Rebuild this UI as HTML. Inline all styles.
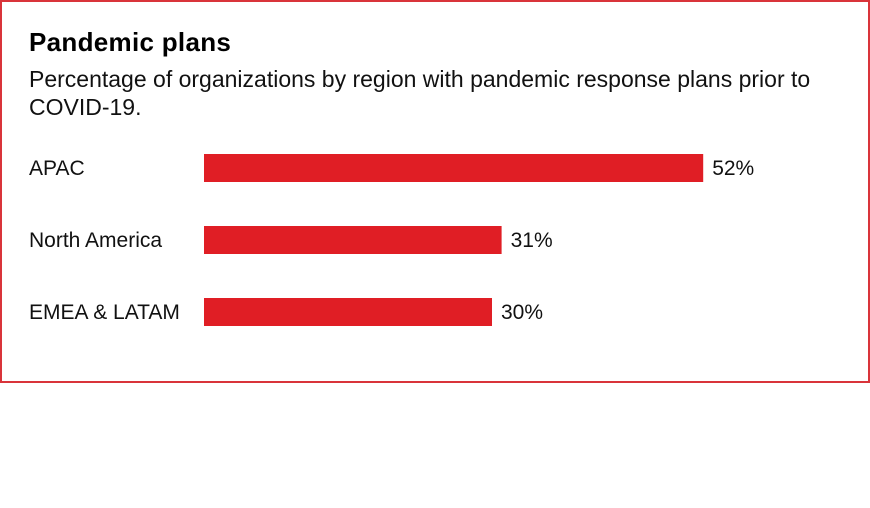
<!DOCTYPE html>
<html><head><meta charset="utf-8"><style>
html,body{margin:0;padding:0;background:#fff;width:870px;height:508px;overflow:hidden;font-family:"Liberation Sans",sans-serif;}
#frame{position:absolute;left:0;top:0;width:866px;height:379px;border:2px solid #d9343a;}
#title{position:absolute;left:29px;top:27px;font-size:26px;font-weight:bold;color:#000;margin:0;letter-spacing:0.3px;}
#sub{position:absolute;left:29px;top:65px;width:800px;font-size:23px;line-height:28px;color:#111;margin:0;}
svg{position:absolute;left:0;top:0;}
</style></head><body>
<div id="frame"></div>
<h1 id="title">Pandemic plans</h1>
<p id="sub">Percentage of organizations by region with pandemic response plans prior to COVID-19.</p>
<svg id="chart" width="870" height="508"></svg>
<script>
const categories = ["APAC", "North America", "EMEA & LATAM"];
const values = [52, 31, 30];
const valueLabels = ["52%", "31%", "30%"];

const svg = document.getElementById('chart');
const NS = 'http://www.w3.org/2000/svg';
const x0 = 204, pxPerUnit = 9.6;
function xScale(v){ return x0 + v * pxPerUnit; }
const rowTop = 154, rowStep = 72, barH = 28;
function yScale(i){ return rowTop + i * rowStep; }

categories.forEach((c, i) => {
  const y = yScale(i);
  const lab = document.createElementNS(NS, 'text');
  
  
  lab.setAttribute('x', 29);
  lab.setAttribute('y', y + barH/2 + 7);
  lab.setAttribute('font-size', '21');
  lab.setAttribute('fill', '#111');
  lab.textContent = c;
  svg.appendChild(lab);

  const r = document.createElementNS(NS, 'rect');
  
  
  r.setAttribute('x', x0);
  r.setAttribute('y', y);
  r.setAttribute('width', xScale(values[i]) - x0);
  r.setAttribute('height', barH);
  r.setAttribute('fill', '#e01e25');
  svg.appendChild(r);

  const v = document.createElementNS(NS, 'text');
  
  
  v.setAttribute('x', xScale(values[i]) + 9);
  v.setAttribute('y', y + barH/2 + 7);
  v.setAttribute('font-size', '21');
  v.setAttribute('fill', '#111');
  v.textContent = valueLabels[i];
  svg.appendChild(v);
});
</script>
</body></html>
